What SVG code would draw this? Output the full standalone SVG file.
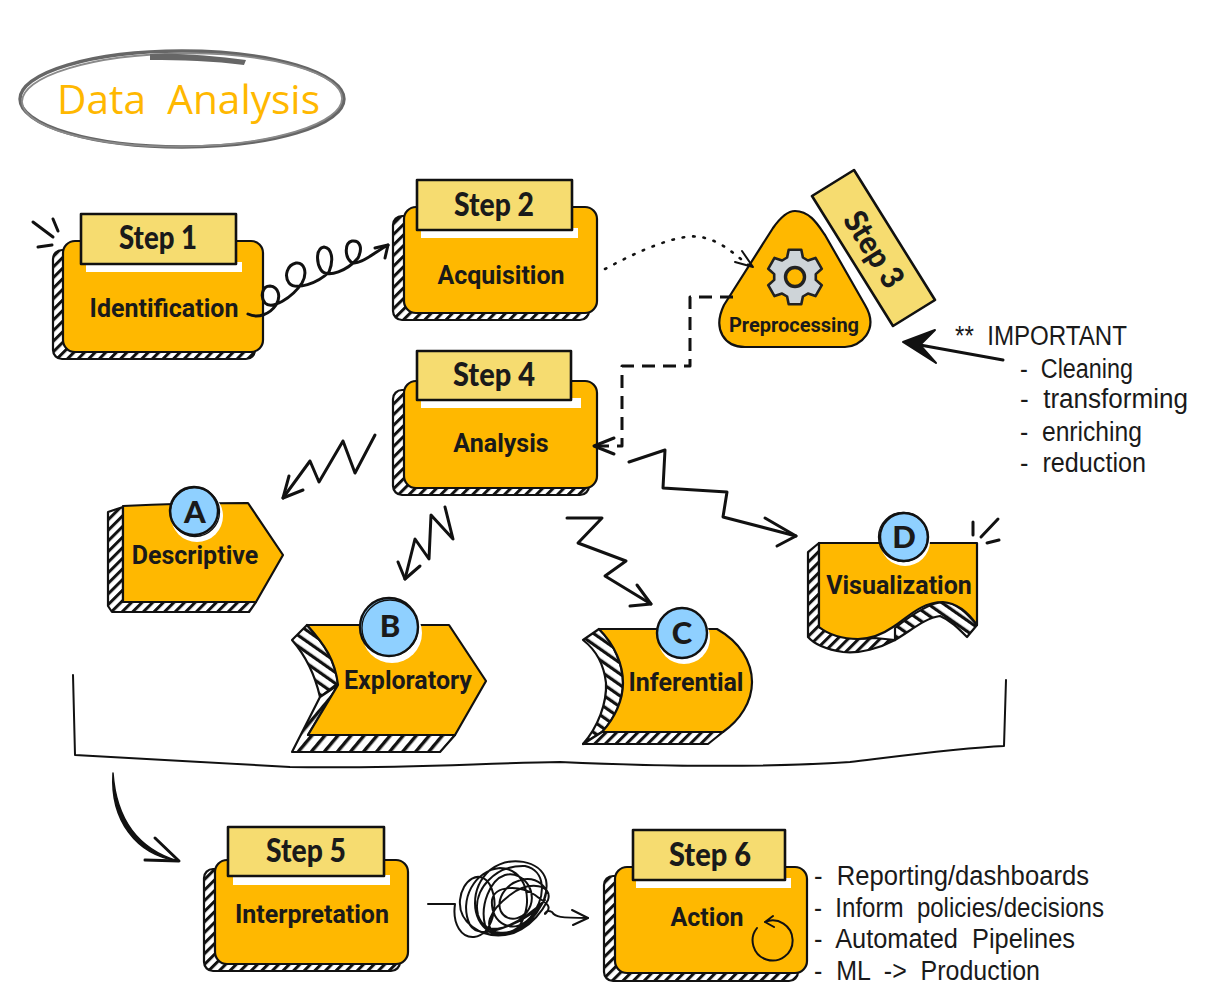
<svg xmlns="http://www.w3.org/2000/svg" width="1207" height="1007" viewBox="0 0 1207 1007">
<style>
.main{fill:#FFB800;stroke:#111;stroke-width:2.2;stroke-linejoin:round}
.shadow{fill:url(#hatch);stroke:#111;stroke-width:2.2;stroke-linejoin:round}
.shadow2{fill:url(#hatchWide);stroke:#111;stroke-width:2.2;stroke-linejoin:round}
.shadow3{fill:url(#hatchBack);stroke:#111;stroke-width:2.2;stroke-linejoin:round}
.tag{fill:#F6DC70;stroke:#111;stroke-width:2.6;stroke-linejoin:round}
.strip{fill:#fff}
.circle{fill:#8FD0FF;stroke:#111;stroke-width:2.4}
.sk{fill:none;stroke:#111;stroke-width:1.3}
.lab{font-family:Roboto,"Liberation Sans",sans-serif;font-weight:700;font-size:25px;fill:#1a1a1a;text-anchor:middle}
.step{font-family:Lato,"Noto Sans",sans-serif;font-weight:900;font-size:32px;fill:#1a1a1a;text-anchor:middle}
.let{font-family:Lato,"Noto Sans",sans-serif;font-weight:900;font-size:31px;fill:#1a1a1a;text-anchor:middle}
.hand{font-family:"Liberation Sans",Arial,sans-serif;font-size:27px;fill:#1a1a1a;white-space:pre}
.con{fill:none;stroke:#111;stroke-width:3;stroke-linecap:round;stroke-linejoin:round}
.thin{stroke-width:2}
.burst{fill:none;stroke:#111;stroke-width:3;stroke-linecap:round}
</style>
<defs>
<pattern id="hatch" patternUnits="userSpaceOnUse" width="7.5" height="8" patternTransform="rotate(45)">
<rect width="7.5" height="8" fill="#fff"/><rect width="3" height="8" fill="#111"/>
</pattern>
<pattern id="hatchWide" patternUnits="userSpaceOnUse" width="10" height="10" patternTransform="rotate(40)">
<rect width="10" height="10" fill="#fff"/><rect width="3.4" height="10" fill="#111"/>
</pattern>
<pattern id="hatchBack" patternUnits="userSpaceOnUse" width="9" height="10" patternTransform="rotate(-55)">
<rect width="9" height="10" fill="#fff"/><rect width="3.2" height="10" fill="#111"/>
</pattern>
</defs>

<g id="title">
<ellipse cx="182" cy="99" rx="162" ry="48" fill="#fff" stroke="#666" stroke-width="3.4"/>
<ellipse cx="182" cy="100" rx="160" ry="46.5" fill="none" stroke="#8a8a8a" stroke-width="1.8" transform="rotate(-0.6 182 100)"/>
<path d="M150 54 C180 53 215 56 246 60 L244 65 C215 61 180 60 150 60Z" fill="#666"/>
<text x="57" y="114" textLength="263" lengthAdjust="spacingAndGlyphs" font-family="'Open Sans','Liberation Sans',sans-serif" font-weight="500" font-size="41" fill="#FFB800" style="white-space:pre">Data  Analysis</text>
</g>

<g id="step1">
<path class="burst" d="M33 222 L53 237 M53 219 L58 231 M38 247 L52 245"/>
<rect class="shadow" x="53" y="250" width="202" height="109" rx="9"/>
<rect class="main" x="63" y="241" width="200" height="111" rx="12"/>
<rect class="strip" x="86" y="262" width="156" height="10"/>
<rect class="tag" x="81" y="214" width="155" height="50"/>
<text class="step" x="158" y="249" textLength="78" lengthAdjust="spacingAndGlyphs">Step 1</text>
<text class="lab" x="164" y="317">Identification</text>
</g>

<g id="step2">
<rect class="shadow" x="393" y="216" width="196" height="104" rx="9"/>
<rect class="main" x="404" y="207" width="193" height="106" rx="12"/>
<rect class="strip" x="421" y="228" width="157" height="10"/>
<rect class="tag" x="417" y="180" width="155" height="50"/>
<text class="step" x="494" y="216" textLength="80" lengthAdjust="spacingAndGlyphs">Step 2</text>
<text class="lab" x="501" y="284">Acquisition</text>
</g>

<g id="step3">
<path class="main" d="M795 211 C810 211 818 225 825 235 L865 305 C880 330 860 347 845 347 L745 347 C725 347 712 330 724 305 L773 228 C780 218 787 211 795 211Z"/>
<path d="M787.1 257.5 L788.7 249.7 L801.3 249.7 L802.9 257.5 L807.9 260.5 L815.5 257.9 L821.8 268.8 L815.8 274.1 L815.8 279.9 L821.8 285.2 L815.5 296.1 L807.9 293.6 L802.9 296.5 L801.3 304.3 L788.7 304.3 L787.1 296.5 L782.1 293.6 L774.5 296.1 L768.2 285.2 L774.2 279.9 L774.2 274.1 L768.2 268.8 L774.5 257.9 L782.1 260.5Z" fill="#CED4D8" stroke="#222" stroke-width="2.6" stroke-linejoin="round"/>
<circle cx="795" cy="277" r="9.5" fill="#FFB800" stroke="#222" stroke-width="3.4"/>
<text class="lab" x="794" y="332" style="font-size:20px">Preprocessing</text>
<path class="tag" d="M812 196 L854 170 L935 300 L893 326Z"/>
<text class="step" x="873" y="250" transform="rotate(58 873 250) translate(0 10)" textLength="84" lengthAdjust="spacingAndGlyphs">Step 3</text>
</g>

<g id="important-note">
<text class="hand" x="955" y="345" textLength="172" lengthAdjust="spacingAndGlyphs">**  IMPORTANT</text>
<text class="hand" x="1020" y="378" textLength="113" lengthAdjust="spacingAndGlyphs">-  Cleaning</text>
<text class="hand" x="1020" y="408" textLength="168" lengthAdjust="spacingAndGlyphs">-  transforming</text>
<text class="hand" x="1020" y="441" textLength="122" lengthAdjust="spacingAndGlyphs">-  enriching</text>
<text class="hand" x="1020" y="472" textLength="126" lengthAdjust="spacingAndGlyphs">-  reduction</text>
</g>

<g id="step4">
<rect class="shadow" x="393" y="390" width="196" height="105" rx="9"/>
<rect class="main" x="404" y="381" width="193" height="107" rx="12"/>
<rect class="strip" x="421" y="398" width="160" height="10"/>
<rect class="tag" x="417" y="351" width="154" height="49"/>
<text class="step" x="494" y="386" textLength="82" lengthAdjust="spacingAndGlyphs">Step 4</text>
<text class="lab" x="501" y="452">Analysis</text>
</g>

<g id="descriptive">
<path class="shadow" d="M108 512 L123 507 L123 602 L256 602 L249 612 L112 612 L108 606Z"/>
<path class="main" d="M123 506 C160 504 210 503 248 503 L283 555 L256 602 L123 602Z"/>
<circle cx="197" cy="516" r="26" fill="#fff"/>
<circle class="circle" cx="194" cy="511" r="24"/>
<circle class="sk" cx="195" cy="512" r="24.5"/>
<text class="let" x="195" y="523">A</text>
<text class="lab" x="195" y="564">Descriptive</text>
</g>

<g id="exploratory">
<path class="shadow3" d="M292 640 L307 625 C325 645 335 660 338 683 L320 697 C315 675 305 655 292 640Z"/>
<path class="shadow2" d="M338 685 L308 735 L455 735 L440 752 L292 752 L320 697Z"/>
<path class="main" d="M307 625 L449 625 L486 681 L455 735 L308 735 L338 685 C335 660 325 645 307 625Z"/>
<circle cx="392" cy="633" r="30" fill="#fff"/>
<circle class="circle" cx="389" cy="627" r="29"/>
<circle class="sk" cx="390" cy="628" r="28"/>
<text class="let" x="390" y="637">B</text>
<text class="lab" x="408" y="689">Exploratory</text>
</g>

<g id="inferential">
<path class="shadow3" d="M583 640 L599 629 C615 645 623 665 623 683 C623 700 615 718 602 732 L583 744 C598 727 607 703 606 683 C604 665 596 650 583 640Z"/>
<path class="shadow" d="M602 732 L723 732 L708 744 L583 744 Z"/>
<path class="main" d="M599 629 L717 629 C740 642 752 662 752 682 C752 702 740 720 723 732 L602 732 C615 718 623 700 623 683 C623 665 615 645 599 629Z"/>
<circle cx="684" cy="638" r="26" fill="#fff"/>
<circle class="circle" cx="682" cy="633" r="25"/>
<text class="let" x="682" y="644">C</text>
<text class="lab" x="686" y="691">Inferential</text>
</g>

<g id="visualization">
<path class="burst" d="M973 522 V535 M998 519 L981 537 M999 540 L987 543"/>
<path class="shadow" d="M808 552 L819 543 L819 627 C835 638 860 640 875 638 L895 640 C880 648 860 654 843 652 C830 650 815 645 808 637Z"/>
<path class="shadow3" d="M895 628 C915 612 930 603 943 602 C958 603 968 615 977 625 L967 637 C958 628 950 620 940 616 C925 618 912 630 895 640Z"/>
<path class="main" d="M819 543 L977 543 L977 625 C968 612 958 603 943 602 C920 602 905 620 893 627 C880 636 868 639 858 639 C840 639 828 634 819 627Z"/>
<circle cx="905" cy="541" r="25" fill="#fff"/>
<circle class="circle" cx="904" cy="537" r="24"/>
<circle class="sk" cx="903" cy="537" r="24.5"/>
<text class="let" x="904" y="548">D</text>
<text class="lab" x="899" y="594">Visualization</text>
</g>

<g id="step5">
<rect class="shadow" x="204" y="869" width="196" height="102" rx="9"/>
<rect class="main" x="215" y="860" width="193" height="104" rx="12"/>
<rect class="strip" x="233" y="875" width="157" height="10"/>
<rect class="tag" x="228" y="827" width="156" height="49"/>
<text class="step" x="306" y="862" textLength="80" lengthAdjust="spacingAndGlyphs">Step 5</text>
<text class="lab" x="312" y="923">Interpretation</text>
</g>

<g id="step6">
<rect class="shadow" x="604" y="876" width="194" height="105" rx="9"/>
<rect class="main" x="615" y="867" width="192" height="106" rx="12"/>
<rect class="strip" x="636" y="878" width="155" height="10"/>
<rect class="tag" x="633" y="830" width="152" height="50"/>
<text class="step" x="710" y="866" textLength="82" lengthAdjust="spacingAndGlyphs">Step 6</text>
<text class="lab" x="707" y="926">Action</text>
<path class="con thin" d="M765 922 A20 20 0 1 1 757 928 M773 916 L765 922 L774 927"/>
</g>

<g id="action-notes">
<text class="hand" x="814" y="885" textLength="275" lengthAdjust="spacingAndGlyphs">-  Reporting/dashboards</text>
<text class="hand" x="814" y="917" textLength="290" lengthAdjust="spacingAndGlyphs">-  Inform  policies/decisions</text>
<text class="hand" x="814" y="948" textLength="261" lengthAdjust="spacingAndGlyphs">-  Automated  Pipelines</text>
<text class="hand" x="814" y="980" textLength="226" lengthAdjust="spacingAndGlyphs">-  ML  -&gt;  Production</text>
</g>

<g id="connectors">
<path id="c-spiral" class="con" d="M248 314 C258 319 270 314 276 305 C281 297 279 287 270 286 C262 286 260 297 265 303 C272 310 292 298 302 283 C308 272 304 262 296 263 C287 265 284 276 289 283 C296 291 318 283 329 272 C334 260 332 248 324 247 C316 248 316 262 321 270 C328 279 348 270 358 258 C363 248 360 240 352 241 C344 243 345 257 351 262 C358 267 375 252 388 245"/>
<path class="con" d="M375 248 L388 245 L385 258"/>
<path id="c-dotted" class="con" stroke-dasharray="1.5 9" d="M605 269 C640 250 680 233 700 237 C722 240 738 258 750 266" style="stroke-width:2.6"/>
<path class="con thin" d="M735 262 L753 267 L742 251"/>
<path id="c-dashed" class="con" stroke-dasharray="13 8" style="stroke-linecap:butt" d="M733 297 H690 V366 H622 V446 H598"/>
<path class="con" d="M614 438 L594 446 L614 454"/>
<path id="c-important" class="con" d="M1003 360 L920 345"/>
<path d="M903 342 L935 330 L920 345 L936 363 Z" fill="#111" stroke="#111" stroke-width="2" stroke-linejoin="round"/>
<path id="c-a" class="con" d="M375 435 L355 473 L343 441 L319 482 L310 461 L283 498"/>
<path class="con" d="M303 490 L283 498 L289 476"/>
<path id="c-b" class="con" d="M445 507 L453 539 L431 515 L429 559 L415 539 L405 579"/>
<path class="con" d="M398 562 L405 579 L420 566"/>
<path id="c-c" class="con" d="M567 518 H602 L578 543 L626 561 L605 576 L651 604"/>
<path class="con" d="M637 585 L651 604 L630 606"/>
<path id="c-d" class="con" d="M629 462 L665 450 L663 488 L727 492 L723 517 L796 536"/>
<path class="con" d="M765 518 L796 536 L777 546"/>
<path id="c-bracket" class="con" style="stroke-width:2" d="M73 675 L75 755 C130 758 190 762 290 767 C400 769 480 763 560 762 C650 766 760 768 850 762 C900 756 960 748 1004 746 L1006 680"/>
<path id="c-swoosh" d="M113 773 C116 815 135 848 178 861 C136 855 110 820 113 773Z" fill="#111" stroke="#111" stroke-width="1.5" stroke-linejoin="round"/>
<path class="con" d="M155 838 L179 861 L145 860"/>
<path id="c-scribble" class="con thin" d="M428 904 H455 C452 925 462 938 474 937 C492 935 500 905 490 885 C480 868 462 880 460 900 C458 922 480 938 505 935 C530 930 550 900 546 880 C540 860 510 855 490 870 C470 888 470 920 490 932 C510 942 535 925 548 900 C553 885 530 880 510 895 C490 910 480 930 500 934 C520 935 548 905 546 890 C535 870 505 880 500 900 C496 918 515 925 527 912 C540 895 525 870 505 875 C490 880 480 905 485 925 C490 935 525 925 545 900 C520 925 480 942 470 925 C458 900 475 870 500 868 C525 868 535 900 520 925 C510 938 485 935 478 915 C472 890 495 865 525 866 C545 870 548 895 530 918 C515 935 490 925 492 900 C495 885 520 885 535 895 C545 903 552 905 547 912 C543 918 545 908 552 912 C555 917 560 918 588 918"/>
<path class="con thin" d="M572 910 L588 918 L573 925"/>
</g>
</svg>
